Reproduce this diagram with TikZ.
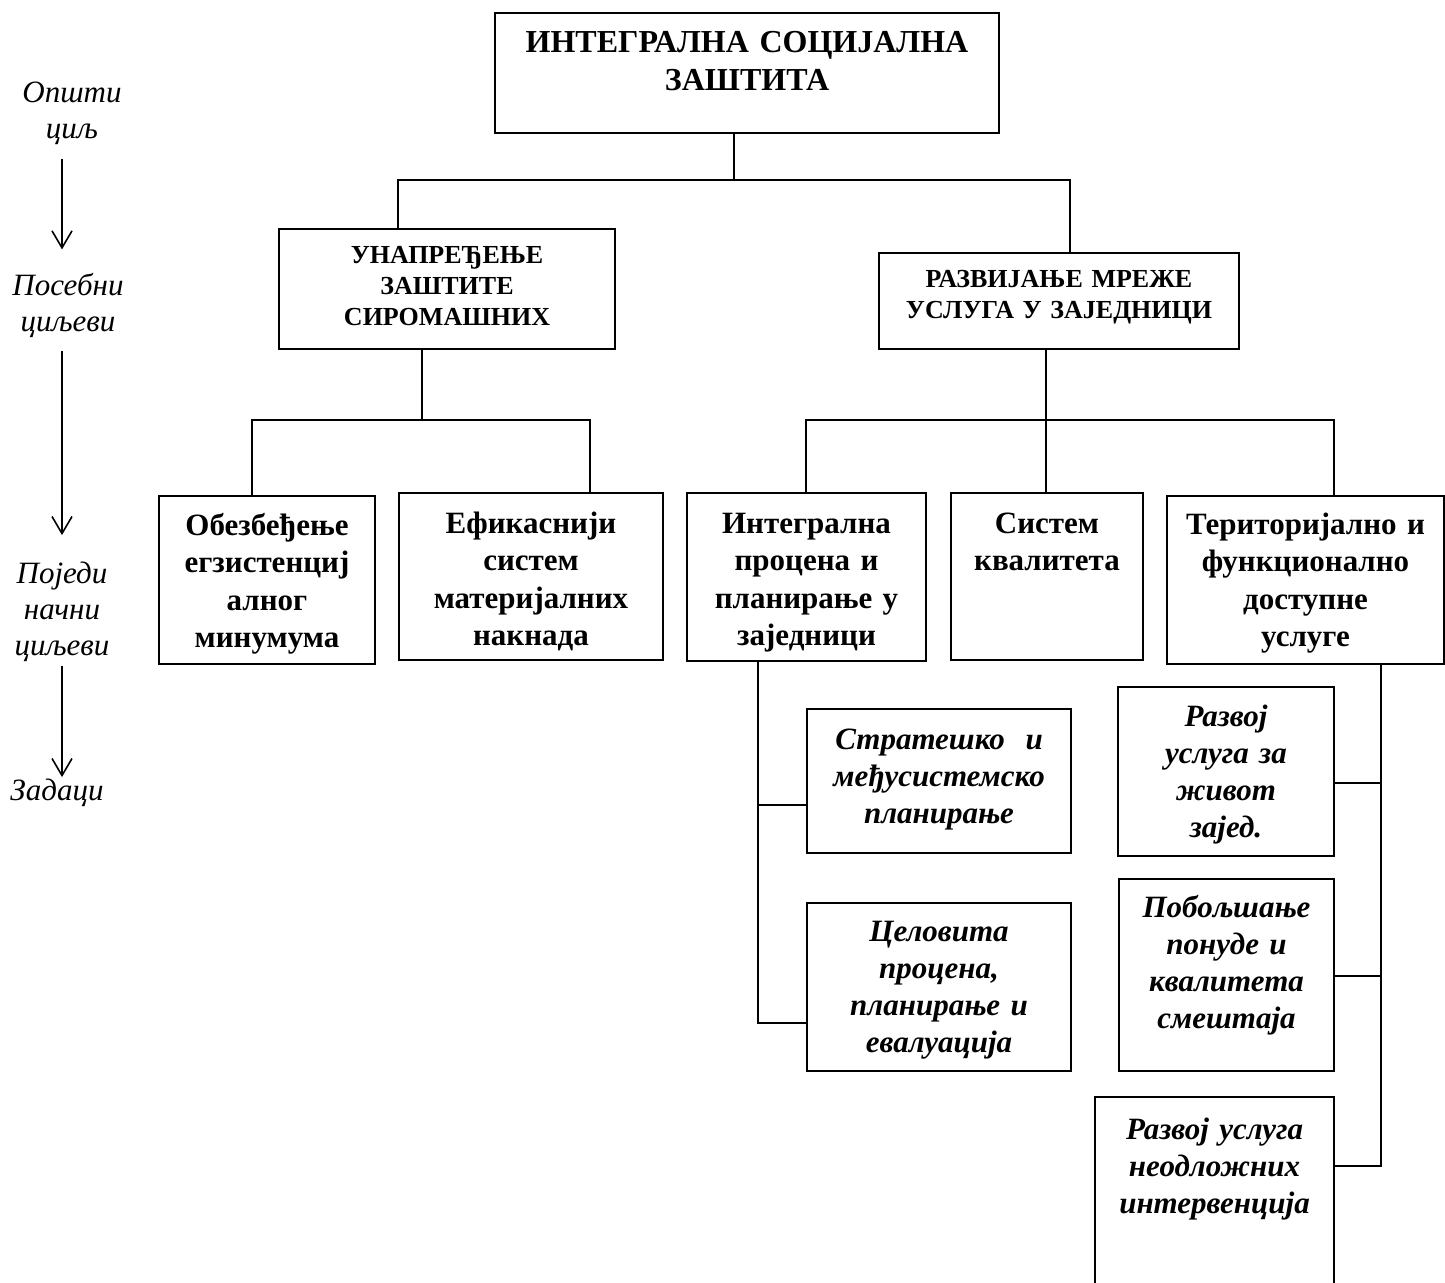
\documentclass[tikz,border=0pt]{standalone}
\usepackage{fontspec}
\setmainfont{Liberation Serif}
\usepackage{tikz}
\usetikzlibrary{arrows.meta}
\tikzstyle{goal} = [draw, line width=1pt, inner sep=0pt, anchor=north west, align=center, font={\bfseries\fontsize{15.5}{18.75}\selectfont}]
\tikzstyle{main} = [goal, font={\bfseries\fontsize{16}{19}\selectfont}]
\tikzstyle{head} = [goal, font={\bfseries\fontsize{13}{15.5}\selectfont}]
\tikzstyle{task} = [goal, font={\bfseries\itshape\fontsize{15.5}{18.5}\selectfont}]
\tikzstyle{level} = [anchor=base, align=center, inner sep=0pt, text width=70pt, font={\itshape\fontsize{15.5}{18}\selectfont}]
\tikzstyle{line} = [line width=1pt]
\tikzstyle{arrow} = [line width=0.8pt,-{Straight Barb[length=8.5pt,width=10pt]}]

\begin{document}
\begin{tikzpicture}[x=0.5pt,y=-0.5pt]
                        \useasboundingbox (0,0) rectangle (1445,1283);
                        % levels on the left
                        \node[level] (opsti) at (72,103) {Општи\\циљ};
                        \node[level] (posebni) at (68,296) {Посебни\\циљеви};
                        \node[level] (pojed) at (62,583) {Поједи\\начни\\циљеви};
                        \node[level] (zadaci) at (57,800) {Задаци};
                        \coordinate (ax) at (62,0);
                        \draw[arrow, shorten <=6.5pt, shorten >=12pt] (opsti.south -| ax) -- (posebni.north -| ax);
                        \draw[arrow, shorten <=6pt, shorten >=13pt] (posebni.south -| ax) -- (pojed.north -| ax);
                        \draw[arrow, shorten <=2pt, shorten >=0.5pt] (pojed.south -| ax) -- (zadaci.north -| ax);
                        % boxes
                        \node[main, text width=252pt, text height=20pt, text depth=40pt] (title) at (494,12) {ИНТЕГРАЛНА СОЦИЈАЛНА\\ЗАШТИТА};
                        \node[head, text width=168pt, text height=17.5pt, text depth=42.5pt] (unap) at (278,228) {УНАПРЕЂЕЊЕ\\ЗАШТИТЕ\\СИРОМАШНИХ};
                        \node[head, text width=180pt, text height=17.5pt, text depth=30.5pt] (razv) at (878,252) {РАЗВИЈАЊЕ МРЕЖЕ\\УСЛУГА У ЗАЈЕДНИЦИ};
                        \node[goal, text width=108pt, text height=19.5pt, text depth=64.5pt] (obezb) at (158,495) {Обезбеђење\\егзистенциј\\алног\\минумума};
                        \node[goal, text width=132pt, text height=20pt, text depth=63.5pt] (efik) at (398,492) {Ефикаснији\\систем\\материјалних\\накнада};
                        \node[goal, text width=119.5pt, text height=20pt, text depth=64pt] (integr) at (686,492) {Интегрална\\процена и\\планирање у\\заједници};
                        \node[goal, text width=96pt, text height=20pt, text depth=63.5pt] (sistem) at (950,492) {Систем\\квалитета};
                        \node[goal, text width=138.5pt, text height=19pt, text depth=65pt] (terit) at (1166,495) {Територијално и\\функционално\\доступне\\услуге};
                        \node[task, text width=132pt, text height=20pt, text depth=52pt] (strat) at (806,708) {Стратешко~ и\\међусистемско\\планирање};
                        \node[task, text width=132pt, text height=19pt, text depth=65pt] (celov) at (806,902) {Целовита\\процена,\\планирање и\\евалуација};
                        \node[task, text width=108pt, text height=19.5pt, text depth=65pt] (razvoj) at (1117,686) {Развој\\услуга за\\живот\\зајед.};
                        \node[task, text width=107.5pt, text height=19pt, text depth=77pt] (pobolj) at (1118,878) {Побољшање\\понуде и\\квалитета\\смештаја};
                        \node[task, text width=119.5pt, text height=21pt, text depth=81pt] (neodl) at (1094,1096) {Развој услуга\\неодложних\\интервенција};
                        % connectors
                        \coordinate (t1) at (734,180);
                        \coordinate (t1l) at (398,180);
                        \coordinate (t1r) at (1070,180);
                        \draw[line] (title.south -| t1) -- (t1);
                        \draw[line] (unap.north -| t1l) -- (t1l) -- (t1r) -- (razv.north -| t1r);
                        \coordinate (u1) at (422,420);
                        \coordinate (u1l) at (252,420);
                        \coordinate (u1r) at (590,420);
                        \draw[line] (unap.south -| u1) -- (u1);
                        \draw[line] (obezb.north -| u1l) -- (u1l) -- (u1r) -- (efik.north -| u1r);
                        \coordinate (r1) at (1046,420);
                        \coordinate (r1l) at (806,420);
                        \coordinate (r1r) at (1334,420);
                        \draw[line] (razv.south -| r1) -- (sistem.north -| r1);
                        \draw[line] (integr.north -| r1l) -- (r1l) -- (r1r) -- (terit.north -| r1r);
                        \coordinate (k1) at (758,805);
                        \coordinate (k2) at (758,1023);
                        \draw[line] (integr.south -| k1) -- (k2) -- (celov.west |- k2);
                        \draw[line] (k1) -- (strat.west |- k1);
                        \coordinate (m1) at (1381,783);
                        \coordinate (m2) at (1381,976);
                        \coordinate (m3) at (1381,1166);
                        \draw[line] (terit.south -| m1) -- (m3) -- (neodl.east |- m3);
                        \draw[line] (m1) -- (razvoj.east |- m1);
                        \draw[line] (m2) -- (pobolj.east |- m2);
                    \end{tikzpicture}
\end{document}
